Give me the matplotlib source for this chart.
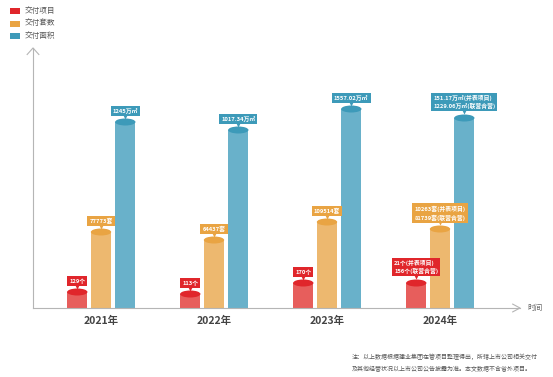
import matplotlib
matplotlib.use("Agg")
import matplotlib.pyplot as plt
from matplotlib.patches import Ellipse, Rectangle
import numpy as np

plt.rcParams['font.family'] = ['Noto Sans CJK SC', 'DejaVu Sans']

# data (bar heights are the drawn heights, chart is not to scale)
years = ['2021年', '2022年', '2023年', '2024年']
series_names = ['交付项目', '交付套数', '交付面积']
project_heights = [16, 14, 25, 25]
units_heights = [76, 68, 86, 79]
area_heights = [186, 178, 199, 190]
project_labels = ['129个', '113个', '170个', '21个(并表项目)\n156个(联营合营)']
units_labels = ['77773套', '64437套', '109514套', '10263套(并表项目)\n81739套(联营合营)']
area_labels = ['1245万㎡', '1017.34万㎡', '1557.02万㎡', '151.17万㎡(并表项目)\n1229.06万㎡(联营合营)']

top_colors = ['#e0262b', '#e9a443', '#3d9ab9']
body_colors = ['#e75e5c', '#edb86f', '#69b1ca']
W, H = 553, 377

fig = plt.figure(figsize=(W / 100, H / 100), dpi=100)
x0, x1, y0, y1 = 33, 520, 308, 48
ax = fig.add_axes([x0 / W, 1 - y0 / H, (x1 - x0) / W, (y0 - y1) / H])
ax.set_xlim((x0 - 101) / 113, (x1 - 101) / 113)
ax.set_ylim(0, y0 - y1)
for s in ['top', 'right']:
    ax.spines[s].set_visible(False)
for s in ['left', 'bottom']:
    ax.spines[s].set_color('#b5b5b5')
    ax.spines[s].set_linewidth(0.8)
ax.set_xticks([])
ax.set_yticks([])

# arrow heads
ax.plot([0.985, 1.0, 0.985], [0.015, 0, -0.015], transform=ax.transAxes, color='#b5b5b5', lw=0.8, clip_on=False)
ax.plot([-0.012, 0, 0.012], [0.975, 1.0, 0.975], transform=ax.transAxes, color='#b5b5b5', lw=0.8, clip_on=False)

x = np.arange(len(years))
offsets = [-0.21, 0.0, 0.215]
bw = 0.18
ell_h = 7
all_heights = [project_heights, units_heights, area_heights]
all_labels = [project_labels, units_labels, area_labels]

for k in range(3):
    for i in range(len(years)):
        cx = x[i] + offsets[k]
        h = all_heights[k][i]
        ax.add_patch(Rectangle((cx - bw / 2, 0), bw, h, fc=body_colors[k], ec='none', zorder=2))
        ax.add_patch(Ellipse((cx, h), bw, ell_h, fc=top_colors[k], ec='none', zorder=3))
        lab = all_labels[k][i]
        two = '\n' in lab
        ly = h + (16 if two else 11)
        ax.plot(cx, ly - (10 if two else 6), marker='v', ms=3, color=top_colors[k],
                mec='none', zorder=4, clip_on=False)
        ax.text(cx, ly, lab, ha='center', va='center', multialignment='left',
                fontsize=4.2, color='white', fontweight='bold', linespacing=1.5,
                zorder=5, clip_on=False,
                bbox=dict(boxstyle='square,pad=0.35', fc=top_colors[k], ec='none'))

for i, yr in enumerate(years):
    ax.text(x[i], -13, yr, ha='center', va='center', fontsize=7.5, fontweight='bold',
            color='#444444', clip_on=False)

fig.text(527 / W, 1 - 308 / H, '时间', fontsize=5.5, color='#666666', va='center')

# legend
for j, name in enumerate(series_names):
    yy = 11 + j * 12.5
    fig.patches.append(Rectangle((10 / W, 1 - (yy + 3) / H), 10 / W, 6 / H,
                                 transform=fig.transFigure, fc=top_colors[j], ec='none'))
    fig.text(25 / W, 1 - yy / H, name, fontsize=5.5, color='#555555', va='center')

fig.text(352 / W, 1 - 357 / H, '注：以上数据根据建业集团在管项目整理得出，所辖上市公司相关交付',
         fontsize=4.3, color='#555555', va='center')
fig.text(352 / W, 1 - 369 / H, '及其他经营状况以上市公司公告披露为准。本文数据不含省外项目。',
         fontsize=4.3, color='#555555', va='center')

fig.savefig('out.png', dpi=100)
